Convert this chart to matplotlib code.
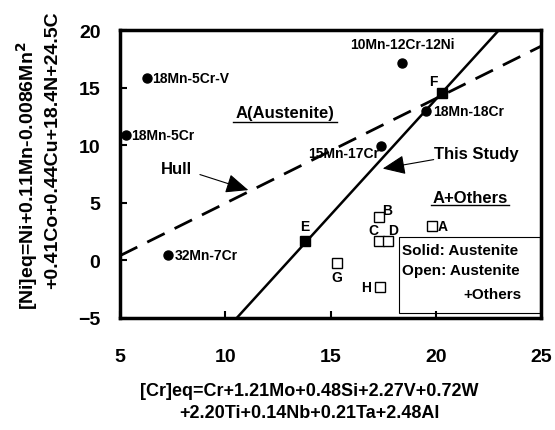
import matplotlib.pyplot as plt
import numpy as np

plt.rcParams['font.family'] = ['Liberation Sans', 'DejaVu Sans']
plt.rcParams['font.weight'] = 'bold'
plt.rcParams['axes.labelweight'] = 'bold'

# solid circles: austenite alloys from literature
circ_x = [6.3, 5.3, 7.3, 18.4, 19.55, 17.4]
circ_y = [15.8, 10.9, 0.5, 17.1, 13.0, 9.9]
circ_lab = ['18Mn-5Cr-V', '18Mn-5Cr', '32Mn-7Cr', '10Mn-12Cr-12Ni', '18Mn-18Cr', '15Mn-17Cr']

# solid squares (this study, austenite)
sq_x = [13.8, 20.3]
sq_y = [1.7, 14.5]
sq_lab = ['E', 'F']

# open squares (austenite + others)
open_x = [19.8, 17.3, 17.3, 17.75, 15.3, 17.35]
open_y = [3.0, 3.8, 1.7, 1.7, -0.2, -2.3]
open_lab = ['A', 'B', 'C', 'D', 'G', 'H']

# boundary lines
study_x = [10.55, 23.0]
study_y = [-5, 20]
hull_x = [5, 25]
hull_y = [0.4, 18.6]

W, H = 555, 431
fig = plt.figure(figsize=(W / 100, H / 100), dpi=100)
ax = fig.add_axes([0.216, 0.26, 0.759, 0.668])

ax.plot(study_x, study_y, 'k-', lw=1.8)
ax.plot(hull_x, hull_y, 'k', lw=2, dashes=(7, 4))

ax.plot(circ_x, circ_y, 'ko', ms=6.5)
ax.plot(sq_x, sq_y, 'ks', ms=7)
ax.plot(open_x, open_y, 's', mfc='white', mec='k', ms=7, mew=1)

fs = 10
ax.text(circ_x[0] + 0.25, circ_y[0], circ_lab[0], fontsize=fs, va='center')
ax.text(circ_x[1] + 0.25, circ_y[1], circ_lab[1], fontsize=fs, va='center')
ax.text(circ_x[2] + 0.3, circ_y[2], circ_lab[2], fontsize=fs, va='center')
ax.text(circ_x[3], circ_y[3] + 1.1, circ_lab[3], fontsize=fs, ha='center', va='bottom')
ax.text(circ_x[4] + 0.3, circ_y[4], circ_lab[4], fontsize=fs, va='center')
ax.text(circ_x[5] - 0.1, circ_y[5] - 0.55, circ_lab[5], fontsize=fs, ha='right', va='center')

ax.text(13.8, 2.95, 'E', fontsize=fs, ha='center', va='center')
ax.text(19.9, 15.6, 'F', fontsize=fs, ha='center', va='center')

ax.text(20.1, 3.0, 'A', fontsize=fs, va='center')
ax.text(17.7, 4.35, 'B', fontsize=fs, ha='center', va='center')
ax.text(17.05, 2.6, 'C', fontsize=fs, ha='center', va='center')
ax.text(17.95, 2.6, 'D', fontsize=fs, ha='center', va='center')
ax.text(15.3, -1.45, 'G', fontsize=fs, ha='center', va='center')
ax.text(16.7, -2.3, 'H', fontsize=fs, ha='center', va='center')

ax.text(12.85, 12.85, 'A(Austenite)', fontsize=12, ha='center', va='center')
ax.plot([10.38, 15.33], [12.05, 12.05], 'k-', lw=1)
ax.text(21.62, 5.5, 'A+Others', fontsize=12, ha='center', va='center')
ax.plot([19.76, 23.48], [4.78, 4.78], 'k-', lw=1)

head = '-|>,head_length=1.4,head_width=0.6'
ax.text(7.7, 8.0, 'Hull', fontsize=12, ha='center', va='center')
ax.annotate('', xy=(11.1, 6.1), xytext=(8.8, 7.45),
            arrowprops=dict(arrowstyle=head, color='k', lw=0.8,
                            shrinkA=0, shrinkB=0))
ax.text(19.9, 9.3, 'This Study', fontsize=12, ha='left', va='center')
ax.annotate('', xy=(17.48, 7.97), xytext=(19.9, 8.75),
            arrowprops=dict(arrowstyle=head, color='k', lw=0.8,
                            shrinkA=0, shrinkB=0))

ax.text(18.4, 0.88, 'Solid: Austenite', fontsize=11, ha='left', va='center')
ax.text(18.4, -0.85, 'Open: Austenite', fontsize=11, ha='left', va='center')
ax.text(24.05, -2.92, '+Others', fontsize=11, ha='right', va='center')
box = plt.Rectangle((18.24, -4.57), 6.71, 6.57, fill=False, ec='k', lw=0.8)
ax.add_patch(box)

ax.set_xlim(5, 25)
ax.set_ylim(-5, 20)
ax.set_xticks([5, 10, 15, 20, 25])
ax.set_yticks([-5, 0, 5, 10, 15, 20])
ax.tick_params(direction='in', length=5, width=1.5, labelsize=14, pad=14)
ax.tick_params(axis='x', pad=22)
plt.setp(ax.get_xticklabels() + ax.get_yticklabels(), fontweight='bold')
for s in ax.spines.values():
    s.set_linewidth(2.5)

# axis titles placed as separate lines, like the original
fig.text(309 / W, 1 - 392 / H, '[Cr]eq=Cr+1.21Mo+0.48Si+2.27V+0.72W',
         fontsize=13, ha='center', va='center')
fig.text(309 / W, 1 - 414 / H, '+2.20Ti+0.14Nb+0.21Ta+2.48Al',
         fontsize=13, ha='center', va='center')
fig.text(27 / W, 1 - 176 / H, '[Ni]eq=Ni+0.11Mn-0.0086Mn$^\\mathbf{2}$',
         fontsize=14, ha='center', va='center', rotation=90)
fig.text(53 / W, 1 - 150 / H, '+0.41Co+0.44Cu+18.4N+24.5C',
         fontsize=14, ha='center', va='center', rotation=90)

fig.savefig('out.png', dpi=100)
